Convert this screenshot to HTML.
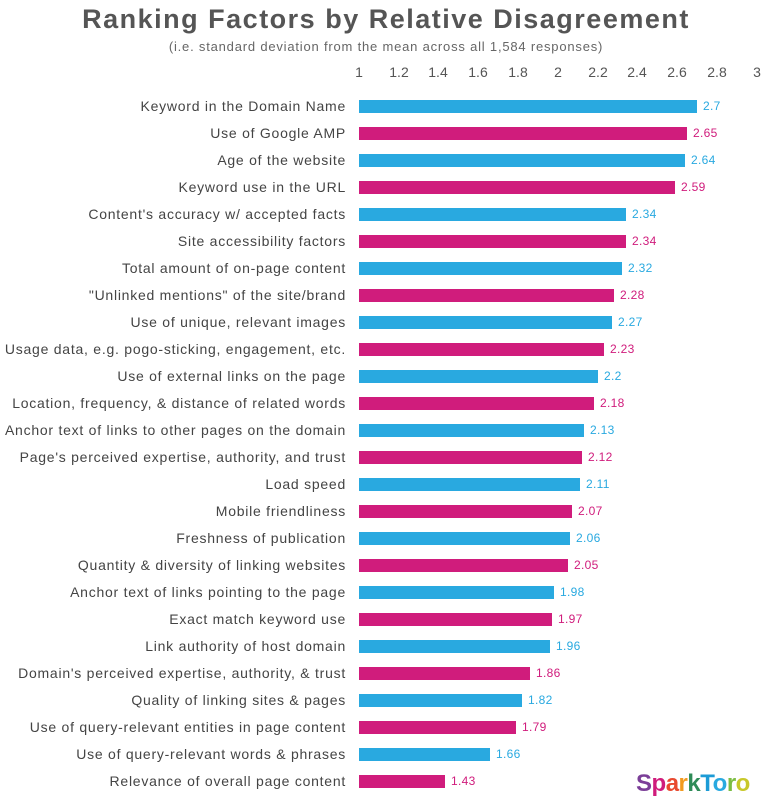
<!DOCTYPE html>
<html><head><meta charset="utf-8"><style>
body{margin:0;width:772px;height:807px;background:#fff;position:relative;font-family:"Liberation Sans",sans-serif;overflow:hidden}
.t{position:absolute;left:0;width:772px;text-align:center;top:4px;font-size:27px;font-weight:bold;color:#555;letter-spacing:1.5px}
.s{position:absolute;left:0;width:772px;text-align:center;top:39px;font-size:13px;color:#666;letter-spacing:0.8px}
.ax{position:absolute;top:64px;font-size:14px;color:#555;width:30px;margin-left:-15px;text-align:center}
.r{position:absolute;left:0;width:772px;height:13px}
.l{position:absolute;right:426px;font-size:14px;color:#444;white-space:nowrap;line-height:13px;letter-spacing:0.75px}
.b{position:absolute;left:359px;height:13px}
.v{position:absolute;font-size:12px;line-height:13px;letter-spacing:0.3px}
.B .b{background:#29a9e0}.B .v{color:#29a9e0}
.M .b{background:#d01c7c}.M .v{color:#d01c7c}
.logo{position:absolute;left:636px;top:770px;font-size:24px;font-weight:bold;letter-spacing:-0.5px}
</style></head><body>
<div class="t">Ranking Factors by Relative Disagreement</div>
<div class="s">(i.e. standard deviation from the mean across all 1,584 responses)</div>
<div class="ax" style="left:359px">1</div><div class="ax" style="left:399px">1.2</div><div class="ax" style="left:438px">1.4</div><div class="ax" style="left:478px">1.6</div><div class="ax" style="left:518px">1.8</div><div class="ax" style="left:558px">2</div><div class="ax" style="left:598px">2.2</div><div class="ax" style="left:637px">2.4</div><div class="ax" style="left:677px">2.6</div><div class="ax" style="left:717px">2.8</div><div class="ax" style="left:757px">3</div>
<div class="r B" style="top:100px"><div class="l">Keyword in the Domain Name</div><div class="b" style="width:338px"></div><div class="v" style="left:703px">2.7</div></div>
<div class="r M" style="top:127px"><div class="l">Use of Google AMP</div><div class="b" style="width:328px"></div><div class="v" style="left:693px">2.65</div></div>
<div class="r B" style="top:154px"><div class="l">Age of the website</div><div class="b" style="width:326px"></div><div class="v" style="left:691px">2.64</div></div>
<div class="r M" style="top:181px"><div class="l">Keyword use in the URL</div><div class="b" style="width:316px"></div><div class="v" style="left:681px">2.59</div></div>
<div class="r B" style="top:208px"><div class="l">Content's accuracy w/ accepted facts</div><div class="b" style="width:267px"></div><div class="v" style="left:632px">2.34</div></div>
<div class="r M" style="top:235px"><div class="l">Site accessibility factors</div><div class="b" style="width:267px"></div><div class="v" style="left:632px">2.34</div></div>
<div class="r B" style="top:262px"><div class="l">Total amount of on-page content</div><div class="b" style="width:263px"></div><div class="v" style="left:628px">2.32</div></div>
<div class="r M" style="top:289px"><div class="l">"Unlinked mentions" of the site/brand</div><div class="b" style="width:255px"></div><div class="v" style="left:620px">2.28</div></div>
<div class="r B" style="top:316px"><div class="l">Use of unique, relevant images</div><div class="b" style="width:253px"></div><div class="v" style="left:618px">2.27</div></div>
<div class="r M" style="top:343px"><div class="l">Usage data, e.g. pogo-sticking, engagement, etc.</div><div class="b" style="width:245px"></div><div class="v" style="left:610px">2.23</div></div>
<div class="r B" style="top:370px"><div class="l">Use of external links on the page</div><div class="b" style="width:239px"></div><div class="v" style="left:604px">2.2</div></div>
<div class="r M" style="top:397px"><div class="l">Location, frequency, &amp; distance of related words</div><div class="b" style="width:235px"></div><div class="v" style="left:600px">2.18</div></div>
<div class="r B" style="top:424px"><div class="l">Anchor text of links to other pages on the domain</div><div class="b" style="width:225px"></div><div class="v" style="left:590px">2.13</div></div>
<div class="r M" style="top:451px"><div class="l">Page's perceived expertise, authority, and trust</div><div class="b" style="width:223px"></div><div class="v" style="left:588px">2.12</div></div>
<div class="r B" style="top:478px"><div class="l">Load speed</div><div class="b" style="width:221px"></div><div class="v" style="left:586px">2.11</div></div>
<div class="r M" style="top:505px"><div class="l">Mobile friendliness</div><div class="b" style="width:213px"></div><div class="v" style="left:578px">2.07</div></div>
<div class="r B" style="top:532px"><div class="l">Freshness of publication</div><div class="b" style="width:211px"></div><div class="v" style="left:576px">2.06</div></div>
<div class="r M" style="top:559px"><div class="l">Quantity &amp; diversity of linking websites</div><div class="b" style="width:209px"></div><div class="v" style="left:574px">2.05</div></div>
<div class="r B" style="top:586px"><div class="l">Anchor text of links pointing to the page</div><div class="b" style="width:195px"></div><div class="v" style="left:560px">1.98</div></div>
<div class="r M" style="top:613px"><div class="l">Exact match keyword use</div><div class="b" style="width:193px"></div><div class="v" style="left:558px">1.97</div></div>
<div class="r B" style="top:640px"><div class="l">Link authority of host domain</div><div class="b" style="width:191px"></div><div class="v" style="left:556px">1.96</div></div>
<div class="r M" style="top:667px"><div class="l">Domain's perceived expertise, authority, &amp; trust</div><div class="b" style="width:171px"></div><div class="v" style="left:536px">1.86</div></div>
<div class="r B" style="top:694px"><div class="l">Quality of linking sites &amp; pages</div><div class="b" style="width:163px"></div><div class="v" style="left:528px">1.82</div></div>
<div class="r M" style="top:721px"><div class="l">Use of query-relevant entities in page content</div><div class="b" style="width:157px"></div><div class="v" style="left:522px">1.79</div></div>
<div class="r B" style="top:748px"><div class="l">Use of query-relevant words &amp; phrases</div><div class="b" style="width:131px"></div><div class="v" style="left:496px">1.66</div></div>
<div class="r M" style="top:775px"><div class="l">Relevance of overall page content</div><div class="b" style="width:86px"></div><div class="v" style="left:451px">1.43</div></div>
<div class="logo"><span style="color:#7b3f98">S</span><span style="color:#d01c7c">p</span><span style="color:#e8492f">a</span><span style="color:#f29a1f">r</span><span style="color:#2e8b57">k</span><span style="color:#1c9bd6">T</span><span style="color:#29a9e0">o</span><span style="color:#7bbd42">r</span><span style="color:#c8c82a">o</span></div>
</body></html>
